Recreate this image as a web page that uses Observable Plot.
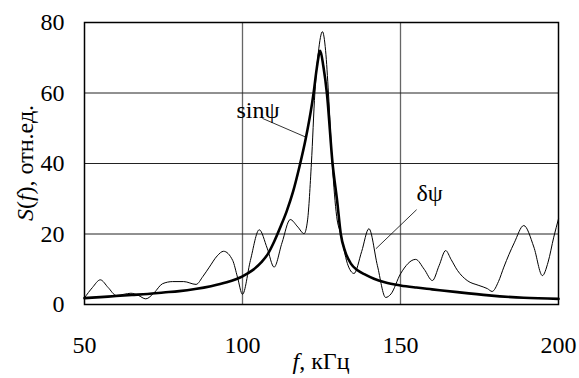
<!DOCTYPE html>
<html>
<head>
<meta charset="utf-8">
<script src="https://cdn.jsdelivr.net/npm/d3@7"></script>
<script src="https://cdn.jsdelivr.net/npm/@observablehq/plot@0.6"></script>
<style>
  body { margin: 0; background: #fff; }
</style>
</head>
<body>
<div id="chart"></div>
<script>
// Spectrum S(f) for the sinψ signal (thick) and the δψ signal (thin)
const sinF = [50,55,60,65,70,75,80,85,90,95,100,103,106,108,110,112,114,116,118,120,122,122.5,123.5,124.6,125.6,126.7,128.5,130,131.1,132.5,134.3,136.4,139,141.6,145,150,155,160,168,178,189,200];
const sinS = [1.8,2.1,2.4,2.7,3.0,3.4,3.8,4.4,5.2,6.3,8.0,9.6,12,14.3,17.8,22,26.5,32,39,47,57,60,67,72,67.5,60,40,29,20,15,11.6,9.7,8.4,7.3,6.3,5.4,4.8,4.3,3.5,2.6,1.9,1.6];

const dF = [50,52.5,55,57.5,60,62.5,64.7,67,69.4,72,74.7,77.9,81.4,85.3,87.5,89.5,92,94,96.9,98.4,100,102.5,105.3,107.8,110,112.5,115.1,117.5,119.5,120.6,121.8,122.9,124,125.3,126.3,127.2,128.4,129.8,131.1,133.2,135.3,137.7,140,142.7,145.3,147,150,154.8,157.5,160.1,162.2,164.3,166,168,171.1,174.8,177.5,179,181,182.7,186,189,192.2,194.9,196.7,198.5,200];
const dS = [1.9,4.8,7.0,4.8,2.6,2.9,3.2,2.6,1.6,3.3,5.9,6.5,6.5,5.7,8.0,10.6,13.8,15.1,12.5,7.8,2.9,12.5,21.2,16,10.6,17.5,24.1,22,20.1,24,40,60,71.5,77.4,72,60,40,25,20,11.6,8.8,15,21.5,11,2.0,3.0,8.7,12.8,10,6.8,11,15.3,12.8,9.7,6.8,5.4,4.5,3.7,6.5,10.6,17.5,22.4,16.3,8.2,12,19.1,24.3];

// Axis ticks and grid positions
const xTicks = [50, 100, 150, 200];
const yTicks = [0, 20, 40, 60, 80];
const xGrid = [100, 150];
const yGrid = [20, 40, 60];

// Callout labels: text, anchor point, leader line from label to curve
const callouts = [
  {text: "sinψ", tx: 104.9, ty: 55.1, x1: 106.3, y1: 52.8, x2: 120.0, y2: 47.5, anchor: "end"},
  {text: "δψ", tx: 159.2, ty: 31.6, x1: 155.1, y1: 26.9, x2: 142.2, y2: 15.8, anchor: "middle"}
];

const sinData = sinF.map((f, i) => ({f, s: sinS[i]}));
const dData = dF.map((f, i) => ({f, s: dS[i]}));

const serif = "Liberation Serif";

const chart = Plot.plot({
  width: 579,
  height: 378,
  marginLeft: 84,
  marginRight: 21,
  marginTop: 22,
  marginBottom: 74,
  style: {fontFamily: serif, fontSize: "24px", background: "#fff", color: "#000"},
  x: {domain: [50, 200]},
  y: {domain: [0, 80]},
  marks: [
    Plot.ruleX(xGrid, {stroke: "#666", strokeWidth: 1.3}),
    Plot.ruleY(yGrid, {stroke: "#222", strokeWidth: 1}),
    Plot.line(dData, {x: "f", y: "s", stroke: "#000", strokeWidth: 1, curve: "monotone-x"}),
    Plot.line(sinData, {x: "f", y: "s", stroke: "#000", strokeWidth: 2.6, curve: "monotone-x"}),
    Plot.link(callouts, {x1: "x1", y1: "y1", x2: "x2", y2: "y2", stroke: "#000", strokeWidth: 0.8}),
    Plot.text(callouts, {x: "tx", y: "ty", text: "text", textAnchor: d => d.anchor, fontSize: 24, fontFamily: serif, fill: "#000"}),
    Plot.frame({stroke: "#000", strokeWidth: 1.5}),
    Plot.axisX({ticks: xTicks, tickSize: 0, tickPadding: 31, fontSize: 24, fontFamily: serif, label: null}),
    Plot.axisY({ticks: yTicks, tickSize: 0, tickPadding: 20, fontSize: 24, fontFamily: serif, label: null})
  ]
});

document.getElementById("chart").appendChild(chart);

// Axis titles with italic variable names
const sx = chart.scale("x"), sy = chart.scale("y");
const svg = d3.select(chart);
const cx = (sx.range[0] + sx.range[1]) / 2;
const cy = (sy.range[0] + sy.range[1]) / 2;

const xt = svg.append("text")
  .attr("x", cx).attr("y", 369)
  .attr("text-anchor", "middle")
  .attr("font-size", 24).attr("fill", "#000");
xt.append("tspan").attr("font-style", "italic").text("f");
xt.append("tspan").text(", кГц");

const yt = svg.append("text")
  .attr("transform", `translate(33,${cy}) rotate(-90)`)
  .attr("text-anchor", "middle")
  .attr("font-size", 24).attr("fill", "#000");
yt.append("tspan").attr("font-style", "italic").text("S");
yt.append("tspan").text("(");
yt.append("tspan").attr("font-style", "italic").text("f");
yt.append("tspan").text("), отн.ед.");

// Serif face on every text element
svg.style("font-family", serif, "important");
svg.selectAll("g, text, tspan").attr("font-family", serif).style("font-family", serif, "important");
</script>
</body>
</html>
